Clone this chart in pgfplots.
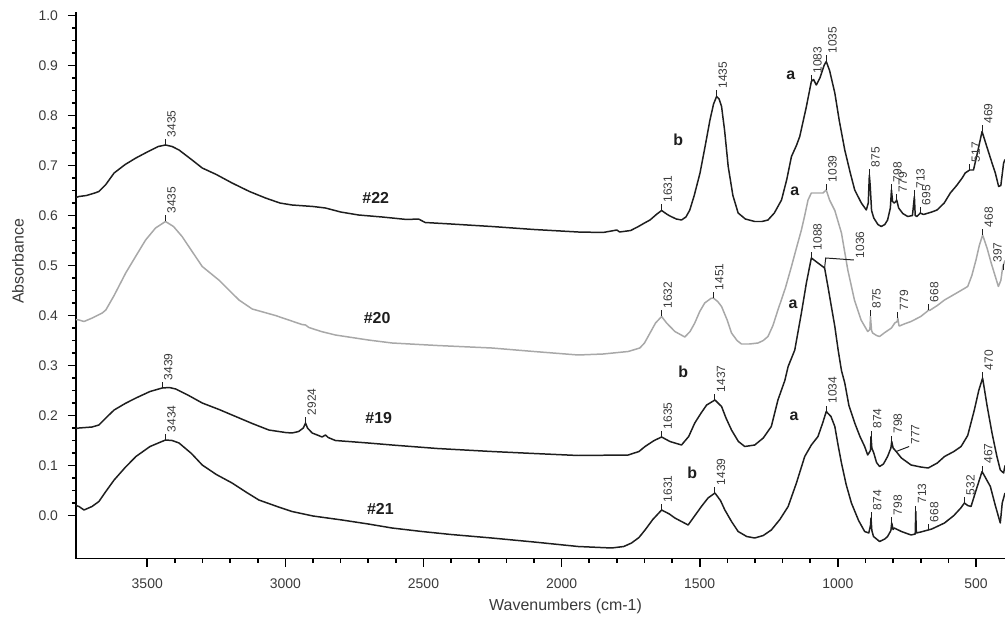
\documentclass[border=0pt]{standalone}
\usepackage{fontspec}
\setmainfont{Liberation Sans}
\usepackage{pgfplots}
\pgfplotsset{compat=1.18}
\usepackage{pgfplotstable}

\definecolor{ink}{HTML}{1E1E1E}
\definecolor{lgray}{HTML}{A8A8A8}
\definecolor{txt}{HTML}{3A3A3A}

% spectrum #22
\pgfplotstableread{
x y
3758 0.636
3747 0.638
3720 0.640
3690 0.645
3675 0.648
3650 0.662
3620 0.685
3580 0.702
3541 0.715
3500 0.727
3460 0.738
3434 0.741
3410 0.738
3385 0.731
3340 0.712
3301 0.695
3250 0.682
3193 0.665
3130 0.648
3072 0.635
3020 0.625
2976 0.621
2900 0.618
2855 0.615
2800 0.607
2735 0.601
2650 0.597
2560 0.592
2518 0.593
2494 0.586
2400 0.583
2253 0.578
2100 0.572
1940 0.567
1850 0.566
1800 0.571
1790 0.567
1750 0.570
1722 0.578
1700 0.585
1680 0.591
1655 0.603
1638 0.610
1620 0.603
1608 0.599
1585 0.593
1566 0.591
1550 0.597
1536 0.611
1520 0.640
1499 0.685
1480 0.740
1463 0.791
1450 0.823
1439 0.838
1430 0.833
1421 0.818
1410 0.770
1397 0.698
1380 0.640
1361 0.605
1335 0.593
1301 0.588
1275 0.588
1253 0.591
1230 0.605
1204 0.631
1185 0.672
1168 0.718
1150 0.740
1138 0.758
1115 0.815
1096 0.868
1088 0.872
1078 0.861
1065 0.875
1050 0.900
1042 0.908
1030 0.890
1011 0.845
995 0.790
975 0.731
955 0.685
939 0.651
915 0.625
897 0.611
890 0.625
886 0.681
883 0.660
878 0.610
870 0.595
855 0.582
843 0.578
830 0.582
820 0.591
810 0.615
806 0.651
802 0.628
796 0.625
790 0.628
787 0.631
780 0.615
765 0.604
747 0.598
730 0.600
723 0.638
720 0.600
714 0.598
705 0.603
702 0.605
690 0.602
660 0.607
641 0.611
615 0.625
593 0.645
570 0.660
550 0.675
539 0.685
523 0.691
509 0.691
495 0.725
478 0.768
465 0.745
442 0.705
430 0.685
418 0.658
410 0.660
400 0.705
395 0.712
}\sptwentytwo

% spectrum #20
\pgfplotstableread{
x y
3758 0.392
3747 0.391
3729 0.388
3699 0.395
3663 0.405
3650 0.411
3620 0.440
3578 0.485
3540 0.520
3506 0.551
3470 0.575
3434 0.588
3405 0.578
3374 0.558
3340 0.530
3301 0.498
3241 0.471
3168 0.431
3120 0.413
3036 0.400
2940 0.382
2927 0.381
2915 0.376
2870 0.368
2819 0.361
2700 0.351
2614 0.345
2450 0.340
2253 0.335
2100 0.328
1940 0.321
1850 0.323
1759 0.328
1717 0.335
1700 0.345
1680 0.365
1660 0.385
1638 0.398
1620 0.385
1590 0.368
1554 0.357
1535 0.368
1518 0.385
1500 0.408
1482 0.425
1460 0.434
1451 0.435
1435 0.428
1421 0.418
1400 0.390
1385 0.365
1365 0.350
1349 0.343
1320 0.343
1289 0.345
1270 0.350
1253 0.358
1235 0.380
1217 0.411
1190 0.455
1168 0.498
1150 0.535
1132 0.571
1120 0.600
1108 0.631
1096 0.645
1075 0.645
1054 0.645
1042 0.651
1030 0.631
1011 0.610
987 0.565
964 0.491
940 0.431
916 0.391
892 0.368
884 0.372
882 0.398
878 0.370
874 0.365
860 0.360
849 0.358
830 0.366
806 0.375
794 0.385
785 0.388
783 0.395
779 0.380
777 0.379
760 0.383
735 0.388
700 0.398
675 0.409
673 0.411
668 0.410
640 0.420
614 0.431
570 0.445
530 0.458
515 0.480
500 0.511
488 0.540
476 0.561
460 0.535
445 0.505
430 0.478
419 0.458
410 0.470
403 0.498
395 0.510
}\sptwenty

% spectrum #19
\pgfplotstableread{
x y
3758 0.174
3747 0.175
3700 0.177
3675 0.181
3650 0.195
3620 0.211
3580 0.224
3541 0.235
3490 0.248
3446 0.255
3420 0.256
3397 0.253
3350 0.240
3301 0.225
3240 0.212
3180 0.198
3120 0.184
3060 0.171
3000 0.166
2976 0.165
2952 0.168
2935 0.175
2927 0.185
2920 0.175
2903 0.165
2880 0.160
2867 0.157
2855 0.161
2845 0.156
2819 0.150
2700 0.145
2614 0.141
2450 0.134
2253 0.128
2100 0.124
1940 0.120
1759 0.121
1720 0.128
1698 0.138
1665 0.150
1638 0.157
1608 0.148
1566 0.141
1540 0.158
1518 0.185
1495 0.205
1475 0.221
1445 0.231
1421 0.218
1405 0.195
1385 0.171
1360 0.148
1337 0.138
1301 0.141
1270 0.155
1241 0.178
1217 0.231
1192 0.270
1180 0.298
1156 0.331
1132 0.405
1114 0.465
1096 0.515
1072 0.505
1048 0.495
1036 0.458
1011 0.378
999 0.331
987 0.290
975 0.265
960 0.220
939 0.185
920 0.158
903 0.138
892 0.121
882 0.130
880 0.158
877 0.135
870 0.125
860 0.106
849 0.098
835 0.103
820 0.118
808 0.135
805 0.148
800 0.135
789 0.128
770 0.115
735 0.101
700 0.097
673 0.095
640 0.105
614 0.118
580 0.128
554 0.138
530 0.160
506 0.211
490 0.250
476 0.275
460 0.220
442 0.165
425 0.120
412 0.091
400 0.085
395 0.100
}\spnineteen

% spectrum #21
\pgfplotstableread{
x y
3758 0.020
3747 0.018
3729 0.011
3700 0.018
3675 0.028
3650 0.048
3620 0.071
3580 0.096
3541 0.118
3490 0.138
3434 0.151
3410 0.150
3385 0.145
3340 0.124
3301 0.101
3250 0.082
3193 0.065
3140 0.046
3096 0.031
3030 0.018
2976 0.008
2900 -0.001
2795 -0.009
2700 -0.017
2614 -0.025
2506 -0.032
2400 -0.038
2253 -0.045
2100 -0.053
1940 -0.062
1819 -0.065
1775 -0.062
1747 -0.055
1720 -0.044
1698 -0.029
1670 -0.008
1638 0.011
1610 0.003
1590 -0.005
1542 -0.019
1520 -0.002
1494 0.018
1470 0.035
1445 0.045
1425 0.030
1409 0.011
1385 -0.012
1361 -0.032
1330 -0.042
1301 -0.045
1270 -0.040
1241 -0.029
1210 -0.008
1180 0.018
1150 0.065
1120 0.118
1096 0.141
1072 0.158
1055 0.185
1042 0.208
1025 0.198
1011 0.178
999 0.140
987 0.105
970 0.062
951 0.025
925 -0.010
903 -0.032
888 -0.035
882 -0.020
880 -0.005
877 -0.030
871 -0.042
849 -0.052
830 -0.047
820 -0.042
808 -0.030
805 -0.015
800 -0.028
796 -0.025
770 -0.032
735 -0.039
720 -0.037
718 0.008
716 -0.035
700 -0.033
680 -0.030
673 -0.029
660 -0.027
614 -0.015
580 0.000
555 0.015
542 0.025
530 0.020
518 0.018
500 0.050
478 0.088
460 0.070
448 0.058
430 0.020
412 -0.015
405 0.025
395 0.045
}\sptwentyone

% peak marker: tick + rotated wavenumber
\newcommand{\pk}[3]{\draw[ink, line width=0.5pt] (axis cs:#1,#2) -- ++(0pt,3bp)
  node[rotate=90, anchor=north west, inner sep=0.7pt, text=txt,
       font=\fontsize{6}{7}\selectfont] {#3};}

\begin{document}
\begin{tikzpicture}
\begin{axis}[
  at={(0,0)}, anchor=south west,
  scale only axis,
  width=464.5bp, height=273.25bp,
  x dir=reverse,
  xmin=395, xmax=3758,
  ymin=-0.086, ymax=1.007,
  axis x line*=bottom, axis y line*=left,
  axis line style={-, line width=1pt, black},
  xtick={500,1000,1500,2000,2500,3000,3500},
  ytick={0,0.1,0.2,0.3,0.4,0.5,0.6,0.7,0.8,0.9,1.0},
  minor x tick num=4, minor y tick num=3,
  tick align=outside,
  major tick length=4bp, minor tick length=2bp,
  every tick/.style={black, line width=0.8pt},
  tick label style={font=\fontsize{7}{8}\selectfont, text=txt},
  /pgf/number format/assume math mode=true,
  xticklabel style={yshift=-2.5bp, /pgf/number format/1000 sep={}},
  yticklabel style={xshift=-1.5bp, /pgf/number format/fixed, /pgf/number format/fixed zerofill, /pgf/number format/precision=1},
  xlabel={Wavenumbers (cm-1)},
  ylabel={Absorbance},
  label style={font=\fontsize{8}{9}\selectfont, text=txt},
  xlabel style={at={(axis description cs:0.527,0)}, anchor=center, yshift=-24bp},
  ylabel style={at={(axis description cs:-0.0624,0.544)}, anchor=center},
  clip=true,
  every axis plot/.append style={line width=0.75pt, line join=round},
]
\addplot[ink] table[x=x, y=y] {\sptwentytwo};
\addplot[lgray] table[x=x, y=y] {\sptwenty};
\addplot[ink] table[x=x, y=y] {\spnineteen};
\addplot[ink] table[x=x, y=y] {\sptwentyone};

% curve names
\begin{scope}[every node/.style={font=\bfseries\fontsize{8}{9}\selectfont, text=ink}]
\node at (axis cs:2673,0.635) {\#22};
\node at (axis cs:2668,0.395) {\#20};
\node at (axis cs:2662,0.195) {\#19};
\node at (axis cs:2656,0.013) {\#21};
\node at (axis cs:1170,0.881) {a};
\node at (axis cs:1578,0.751) {b};
\node at (axis cs:1156,0.648) {a};
\node at (axis cs:1162,0.423) {a};
\node at (axis cs:1560,0.288) {b};
\node at (axis cs:1159,0.199) {a};
\node at (axis cs:1527,0.086) {b};
\end{scope}

% #22 peaks
\pk{3434}{0.741}{3435}
\pk{1638}{0.610}{1631}
\pk{1439}{0.838}{1435}
\pk{1096}{0.868}{1083}
\pk{1042}{0.908}{1035}
\pk{886}{0.681}{875}
\pk{806}{0.651}{798}
\pk{787}{0.631}{779}
\pk{723}{0.638}{713}
\pk{702}{0.605}{695}
\pk{523}{0.691}{517}
\pk{478}{0.768}{469}
% #20 peaks
\pk{3434}{0.588}{3435}
\pk{1638}{0.398}{1632}
\pk{1451}{0.435}{1451}
\pk{1042}{0.651}{1039}
\pk{882}{0.398}{875}
\pk{783}{0.395}{779}
\pk{673}{0.411}{668}
\pk{476}{0.561}{468}
\draw[ink, line width=0.5pt] (axis cs:400,0.49) -- ++(0pt,3bp)
  node[rotate=90, anchor=south west, inner sep=0.7pt, text=txt, font=\fontsize{6}{7}\selectfont] {397};
% #19 peaks
\pk{3446}{0.255}{3439}
\pk{2927}{0.185}{2924}
\pk{1638}{0.157}{1635}
\pk{1445}{0.231}{1437}
\pk{1096}{0.515}{1088}
\draw[ink, line width=0.5pt] (axis cs:1048,0.495) -- (axis cs:1044,0.515) -- (axis cs:942,0.511)
  node[rotate=90, anchor=north west, inner sep=0.7pt, text=txt, font=\fontsize{6}{7}\selectfont] {1036};
\pk{880}{0.158}{874}
\pk{805}{0.148}{798}
\draw[ink, line width=0.5pt] (axis cs:789,0.128) -- (axis cs:742,0.138)
  node[rotate=90, anchor=north west, inner sep=0.7pt, text=txt, font=\fontsize{6}{7}\selectfont] {777};
\pk{476}{0.275}{470}
% #21 peaks
\pk{3434}{0.151}{3434}
\pk{1638}{0.011}{1631}
\pk{1445}{0.045}{1439}
\pk{1042}{0.208}{1034}
\pk{880}{-0.005}{874}
\pk{805}{-0.015}{798}
\pk{718}{0.008}{713}
\pk{673}{-0.029}{668}
\pk{542}{0.025}{532}
\pk{478}{0.088}{467}
\end{axis}
\pgfresetboundingbox
\path[use as bounding box] (-38bp,-32.75bp) rectangle (465bp,279.25bp);
\end{tikzpicture}
\end{document}
